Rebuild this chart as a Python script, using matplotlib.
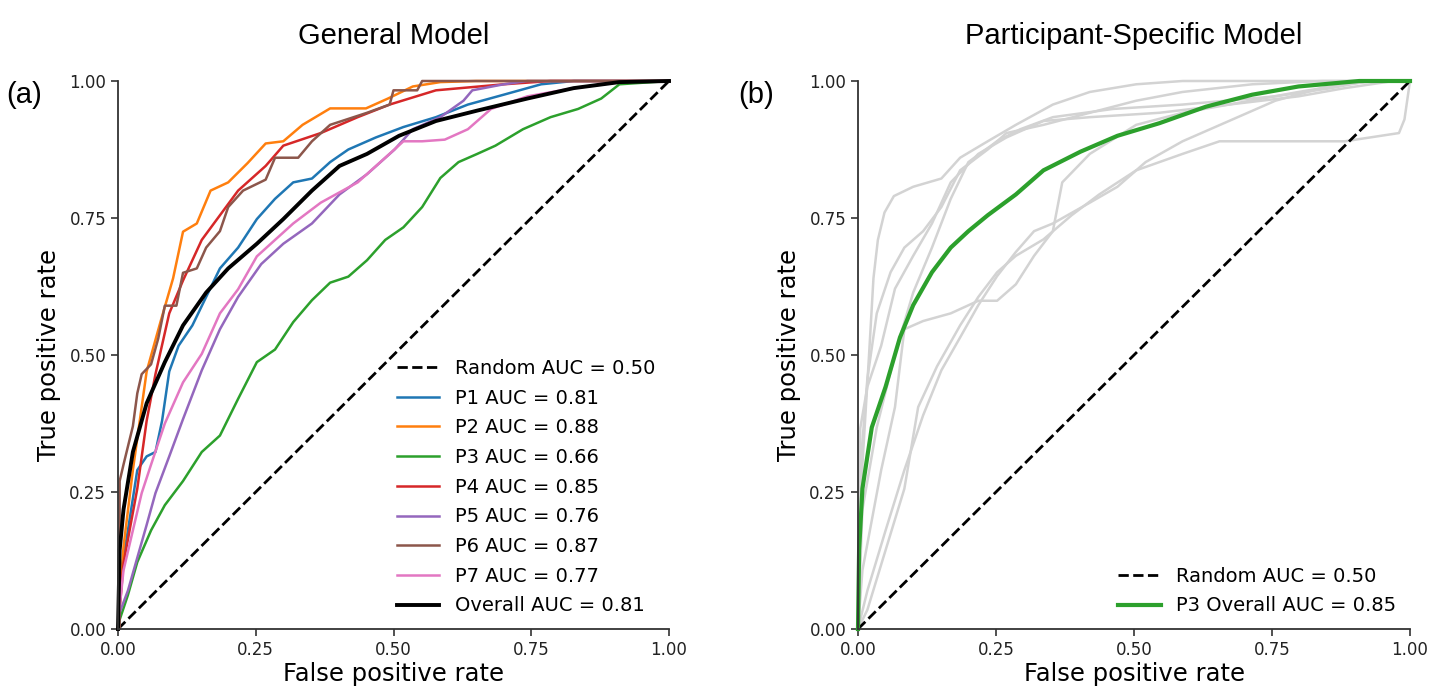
import matplotlib
matplotlib.use("Agg")
import matplotlib.pyplot as plt

# -------------------------------
# Data (fpr, tpr points)
# -------------------------------

random_fpr = [0.0, 1.0]
random_tpr = [0.0, 1.0]

p1_fpr = [0.0, 0.005, 0.018, 0.035, 0.052, 0.068, 0.08, 0.093, 0.11, 0.135, 0.16, 0.185, 0.218, 0.252,
          0.285, 0.318, 0.352, 0.385, 0.418, 0.468, 0.518, 0.577, 0.635, 0.70, 0.768, 0.827, 1.0]
p1_tpr = [0.0, 0.10, 0.18, 0.29, 0.315, 0.323, 0.38, 0.47, 0.517, 0.554, 0.606, 0.658, 0.696, 0.748,
          0.785, 0.815, 0.822, 0.852, 0.875, 0.897, 0.916, 0.934, 0.957, 0.975, 0.994, 1.0, 1.0]

p2_fpr = [0.0, 0.01, 0.027, 0.052, 0.077, 0.10, 0.118, 0.143, 0.168, 0.20, 0.235, 0.268, 0.30, 0.335,
          0.385, 0.45, 0.49, 0.535, 0.585, 0.65, 1.0]
p2_tpr = [0.0, 0.15, 0.29, 0.47, 0.56, 0.64, 0.725, 0.74, 0.80, 0.815, 0.85, 0.886, 0.89, 0.92,
          0.95, 0.95, 0.968, 0.99, 0.998, 1.0, 1.0]

p3_fpr = [0.0, 0.003, 0.018, 0.035, 0.06, 0.085, 0.118, 0.152, 0.185, 0.218, 0.252, 0.285, 0.318, 0.352,
          0.385, 0.418, 0.452, 0.485, 0.518, 0.552, 0.585, 0.618, 0.652, 0.685, 0.735, 0.785, 0.835,
          0.877, 0.91, 1.0]
p3_tpr = [0.0, 0.017, 0.062, 0.122, 0.18, 0.226, 0.27, 0.323, 0.353, 0.42, 0.487, 0.51, 0.56, 0.60,
          0.632, 0.643, 0.673, 0.71, 0.733, 0.77, 0.823, 0.852, 0.867, 0.882, 0.912, 0.934, 0.949,
          0.968, 0.994, 1.0]

p4_fpr = [0.0, 0.01, 0.035, 0.052, 0.068, 0.093, 0.118, 0.152, 0.185, 0.218, 0.268, 0.30, 0.368, 0.435,
          0.493, 0.577, 0.70, 0.785, 1.0]
p4_tpr = [0.0, 0.12, 0.256, 0.38, 0.465, 0.576, 0.636, 0.71, 0.755, 0.80, 0.845, 0.882, 0.905, 0.934,
          0.957, 0.983, 0.994, 1.0, 1.0]

p5_fpr = [0.0, 0.003, 0.018, 0.035, 0.052, 0.068, 0.093, 0.118, 0.152, 0.185, 0.218, 0.26, 0.30, 0.352,
          0.402, 0.452, 0.502, 0.535, 0.585, 0.627, 0.643, 0.70, 0.743, 1.0]
p5_tpr = [0.0, 0.03, 0.07, 0.13, 0.19, 0.248, 0.315, 0.383, 0.472, 0.547, 0.606, 0.666, 0.703, 0.74,
          0.793, 0.83, 0.875, 0.912, 0.934, 0.964, 0.983, 0.994, 1.0, 1.0]

p6_fpr = [0.0, 0.003, 0.003, 0.01, 0.027, 0.035, 0.043, 0.06, 0.073, 0.085, 0.106, 0.118, 0.143, 0.16,
          0.185, 0.20, 0.227, 0.268, 0.285, 0.327, 0.352, 0.385, 0.452, 0.493, 0.50, 0.543, 0.552, 1.0]
p6_tpr = [0.0, 0.0, 0.27, 0.30, 0.37, 0.43, 0.465, 0.483, 0.53, 0.59, 0.59, 0.65, 0.658, 0.696,
          0.726, 0.77, 0.80, 0.82, 0.86, 0.86, 0.89, 0.92, 0.942, 0.957, 0.983, 0.983, 1.0, 1.0]

p7_fpr = [0.0, 0.003, 0.01, 0.027, 0.043, 0.06, 0.085, 0.118, 0.152, 0.185, 0.218, 0.252, 0.285, 0.318,
          0.368, 0.435, 0.485, 0.518, 0.552, 0.593, 0.635, 0.677, 0.743, 0.827, 0.91, 1.0]
p7_tpr = [0.0, 0.04, 0.107, 0.18, 0.248, 0.30, 0.375, 0.45, 0.502, 0.576, 0.62, 0.68, 0.71, 0.74,
          0.778, 0.815, 0.86, 0.89, 0.89, 0.893, 0.912, 0.949, 0.972, 0.987, 0.998, 1.0]

overall_fpr = [0.0, 0.003, 0.01, 0.027, 0.052, 0.085, 0.118, 0.16, 0.20, 0.252, 0.30, 0.352, 0.402,
               0.452, 0.51, 0.577, 0.652, 0.743, 0.827, 0.91, 1.0]
overall_tpr = [0.0, 0.144, 0.218, 0.323, 0.412, 0.487, 0.554, 0.614, 0.658, 0.703, 0.748, 0.80, 0.845,
               0.867, 0.90, 0.927, 0.946, 0.968, 0.987, 0.998, 1.0]

general_curves = [
    ("P1 AUC = 0.81", p1_fpr, p1_tpr, "#1f77b4"),
    ("P2 AUC = 0.88", p2_fpr, p2_tpr, "#ff7f0e"),
    ("P3 AUC = 0.66", p3_fpr, p3_tpr, "#2ca02c"),
    ("P4 AUC = 0.85", p4_fpr, p4_tpr, "#d62728"),
    ("P5 AUC = 0.76", p5_fpr, p5_tpr, "#9467bd"),
    ("P6 AUC = 0.87", p6_fpr, p6_tpr, "#8c564b"),
    ("P7 AUC = 0.77", p7_fpr, p7_tpr, "#e377c2"),
]

# participant-specific gray curves
g1_fpr = [0.0, 0.008, 0.02, 0.028, 0.036, 0.048, 0.065, 0.10, 0.151, 0.185, 0.235, 0.286, 0.353, 0.42,
          0.504, 0.588, 1.0]
g1_tpr = [0.0, 0.30, 0.50, 0.64, 0.71, 0.76, 0.79, 0.807, 0.822, 0.86, 0.89, 0.92, 0.957, 0.98,
          0.994, 1.0, 1.0]

g2_fpr = [0.0, 0.004, 0.017, 0.034, 0.059, 0.084, 0.118, 0.151, 0.185, 0.235, 0.269, 0.336, 0.42, 0.504,
          0.588, 0.714, 0.84, 1.0]
g2_tpr = [0.0, 0.29, 0.457, 0.576, 0.651, 0.696, 0.726, 0.77, 0.837, 0.875, 0.905, 0.92, 0.942, 0.964,
          0.98, 0.994, 1.0, 1.0]

g3_fpr = [0.0, 0.008, 0.034, 0.067, 0.10, 0.134, 0.168, 0.20, 0.252, 0.294, 0.353, 0.462, 0.588, 0.756,
          0.857, 0.924, 1.0]
g3_tpr = [0.0, 0.218, 0.368, 0.502, 0.614, 0.696, 0.785, 0.852, 0.89, 0.912, 0.934, 0.949, 0.957, 0.972,
          0.987, 1.0, 1.0]

g4_fpr = [0.0, 0.008, 0.042, 0.067, 0.084, 0.118, 0.168, 0.218, 0.252, 0.286, 0.319, 0.353, 0.37, 0.42,
          0.504, 0.588, 0.672, 0.798, 0.882, 0.94, 1.0]
g4_tpr = [0.0, 0.107, 0.29, 0.405, 0.547, 0.562, 0.576, 0.599, 0.599, 0.629, 0.681, 0.726, 0.815, 0.867,
          0.92, 0.942, 0.957, 0.98, 0.994, 1.0, 1.0]

g5_fpr = [0.0, 0.017, 0.05, 0.084, 0.118, 0.151, 0.185, 0.218, 0.252, 0.286, 0.319, 0.353, 0.42, 0.47,
          0.521, 0.588, 0.672, 0.756, 0.84, 0.924, 1.0]
g5_tpr = [0.0, 0.07, 0.18, 0.29, 0.39, 0.472, 0.532, 0.591, 0.644, 0.688, 0.726, 0.74, 0.778, 0.807,
          0.852, 0.89, 0.927, 0.964, 0.987, 1.0, 1.0]

g6_fpr = [0.0, 0.017, 0.05, 0.084, 0.109, 0.143, 0.185, 0.218, 0.252, 0.286, 0.336, 0.387, 0.437, 0.504,
          0.588, 0.655, 0.882, 0.98, 0.99, 1.0]
g6_tpr = [0.0, 0.035, 0.144, 0.256, 0.405, 0.479, 0.554, 0.606, 0.651, 0.681, 0.711, 0.755, 0.793, 0.837,
          0.867, 0.89, 0.89, 0.905, 0.93, 1.0]

g7_fpr = [0.0, 0.004, 0.017, 0.042, 0.067, 0.10, 0.134, 0.168, 0.218, 0.269, 0.336, 0.42, 0.546, 0.672,
          0.798, 0.882, 0.97, 1.0]
g7_tpr = [0.0, 0.366, 0.442, 0.517, 0.621, 0.681, 0.74, 0.815, 0.867, 0.897, 0.927, 0.934, 0.942, 0.957,
          0.972, 0.987, 1.0, 1.0]

gray_curves = [(g1_fpr, g1_tpr), (g2_fpr, g2_tpr), (g3_fpr, g3_tpr), (g4_fpr, g4_tpr),
               (g5_fpr, g5_tpr), (g6_fpr, g6_tpr), (g7_fpr, g7_tpr)]

p3_overall_fpr = [0.0, 0.002, 0.008, 0.025, 0.05, 0.076, 0.10, 0.134, 0.168, 0.20, 0.235, 0.286, 0.336,
                  0.403, 0.47, 0.546, 0.63, 0.714, 0.798, 0.908, 1.0]
p3_overall_tpr = [0.0, 0.144, 0.256, 0.368, 0.442, 0.532, 0.591, 0.651, 0.696, 0.726, 0.755, 0.793, 0.837,
                  0.871, 0.90, 0.923, 0.953, 0.975, 0.99, 1.0, 1.0]

ticks = [0.0, 0.25, 0.5, 0.75, 1.0]
tick_labels = ["0.00", "0.25", "0.50", "0.75", "1.00"]

# -------------------------------
# Figure
# -------------------------------

fig = plt.figure(figsize=(14.48, 7), dpi=100)
ax1 = fig.add_axes([118 / 1448, 71 / 700, 551 / 1448, 548 / 700])
ax2 = fig.add_axes([858 / 1448, 71 / 700, 552 / 1448, 548 / 700])


def style_axes(ax, title):
    ax.set_xlim(0, 1)
    ax.set_ylim(0, 1)
    ax.set_xticks(ticks)
    ax.set_yticks(ticks)
    ax.set_xticklabels(tick_labels, fontsize=12)
    ax.set_yticklabels(tick_labels, fontsize=12)
    ax.spines["top"].set_visible(False)
    ax.spines["right"].set_visible(False)
    for s in ["left", "bottom"]:
        ax.spines[s].set_color("#333333")
        ax.spines[s].set_linewidth(1.3)
    ax.tick_params(direction="out", length=5, width=1.2, color="#333333", labelcolor="#222222")
    ax.set_xlabel("False positive rate", fontsize=17.5, labelpad=2)
    ax.set_ylabel("True positive rate", fontsize=17.5, labelpad=6)
    ax.set_title(title, fontsize=21, family="Liberation Sans", pad=27)


ax1.plot(random_fpr, random_tpr, "k--", lw=2, label="Random AUC = 0.50")
for label, fpr, tpr, color in general_curves:
    ax1.plot(fpr, tpr, color=color, lw=1.8, label=label, clip_on=False)
ax1.plot(overall_fpr, overall_tpr, color="black", lw=2.8, label="Overall AUC = 0.81", clip_on=False)
style_axes(ax1, "General Model")
ax1.legend(loc="lower right", frameon=False, fontsize=14, labelspacing=0.55, handlelength=2.2,
           borderaxespad=0.3)

for fpr, tpr in gray_curves:
    ax2.plot(fpr, tpr, color="#d3d3d3", lw=1.8, clip_on=False)
ax2.plot(random_fpr, random_tpr, "k--", lw=2, label="Random AUC = 0.50")
ax2.plot(p3_overall_fpr, p3_overall_tpr, color="#2ca02c", lw=3, label="P3 Overall AUC = 0.85",
         clip_on=False)
style_axes(ax2, "Participant-Specific Model")
ax2.legend(loc="lower right", frameon=False, fontsize=14, labelspacing=0.55, handlelength=2.2,
           borderaxespad=0.3)

fig.text(6 / 1448, 1 - 95 / 700, "(a)", fontsize=21, family="Liberation Sans", va="center")
fig.text(738 / 1448, 1 - 95 / 700, "(b)", fontsize=21, family="Liberation Sans", va="center")

fig.savefig("out.png", dpi=100)
